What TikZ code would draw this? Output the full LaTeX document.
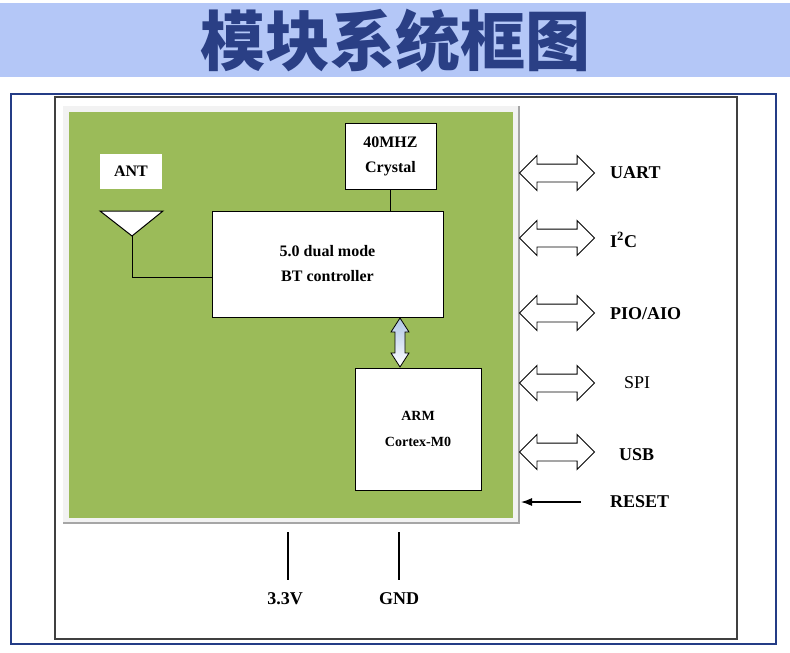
\documentclass[tikz,border=0pt]{standalone}
\usepackage{fontspec}
\setmainfont{Liberation Serif}
\newfontfamily\cjk{Noto Sans CJK SC}
\usetikzlibrary{shapes.arrows,arrows.meta}
\definecolor{bandblue}{HTML}{B4C7F7}
\definecolor{titleblue}{HTML}{2A3F85}
\definecolor{frameblue}{HTML}{243C86}
\definecolor{boardgreen}{HTML}{9BBB59}
\definecolor{arrowblue}{HTML}{AFC6E6}
\begin{document}
\begin{tikzpicture}[x=1pt,y=-1pt,
  blk/.style={draw=black, fill=white, line width=1pt, align=center, inner sep=0pt,
    font=\bfseries\fontsize{16}{25}\selectfont},
  iface/.style={double arrow, draw=black, fill=white, line width=0.9pt,
    minimum height=75pt, minimum width=34pt, inner sep=8.5pt,
    double arrow head extend=8.5pt, double arrow tip angle=90},
  lbl/.style={anchor=west, inner sep=0pt, font=\bfseries\fontsize{18}{20}\selectfont},
  pwr/.style={inner sep=0pt, font=\bfseries\fontsize{18}{20}\selectfont}]
\useasboundingbox (0,0) rectangle (790,653);
\fill[white] (0,0) rectangle (790,653);
% title band
\fill[bandblue] (0,3) rectangle (790,77);
\node[text=titleblue, font=\cjk\bfseries\fontsize{65}{70}\selectfont, inner sep=0pt] (title) at (395,41) {模块系统框图};
% frames
\draw[frameblue, line width=2pt] (11,94) rectangle (776,644);
\draw[black!75, line width=1.5pt] (55,97) rectangle (737,639);
% board
\fill[white!90!gray] (63,106) rectangle (519,523);
\draw[gray!70, line width=1.2pt] (519,106) -- (519,523) -- (63,523);
\fill[boardgreen] (69,112) rectangle (513,518);
% blocks
\node[blk, minimum width=91pt, minimum height=66pt] (crystal) at (390.5,156) {40MHZ\\Crystal};
\node[blk, minimum width=231pt, minimum height=106pt] (bt) at (327.5,264) {5.0 dual mode\\BT controller};
\node[blk, minimum width=126pt, minimum height=122pt, font=\bfseries\fontsize{14}{26}\selectfont] (arm) at (418,429) {ARM\\Cortex-M0};
\node[fill=white, minimum width=62pt, minimum height=35pt, inner sep=0pt, font=\bfseries\fontsize{16}{18}\selectfont] (ant) at (131,171.5) {ANT};
% antenna
\draw[fill=white, line width=1pt] (100,211) -- (163,211) -- (132,236) coordinate (apex) -- cycle;
\draw[line width=1pt] (apex) |- ([yshift=-13pt]bt.west);
\draw[line width=1pt] (crystal.south) -- (crystal.south |- bt.north);
% bus arrow between BT and ARM
\path[draw=black, line width=0.8pt, top color=arrowblue, bottom color=white]
  (400,318) -- (409,332) -- (405,332) -- (405,353) -- (409,353) -- (400,367)
  -- (391,353) -- (395,353) -- (395,332) -- (391,332) -- cycle;
% interfaces
\node[iface] (a1) at (557,173) {};
\node[iface] (a2) at (557,238) {};
\node[iface] (a3) at (557,313) {};
\node[iface] (a4) at (557,383) {};
\node[iface] (a5) at (557,452) {};
\node[lbl] (uart) at (610,173) {UART};
\node[lbl] (i2c) at (610,240) {I\textsuperscript{2}C};
\node[lbl] (pio) at (610,314) {PIO/AIO};
\node[lbl, font=\fontsize{18}{20}\selectfont] (spi) at (624,383) {SPI};
\node[lbl] (usb) at (619,455) {USB};
\node[lbl] (reset) at (610,502) {RESET};
\coordinate (rs) at (581,502);
\coordinate (re) at (521,502);
\draw[line width=1.2pt, -{Latex[length=11pt,width=8pt]}] (rs) -- (re);
% power
\node[pwr] (v33) at (285,599) {3.3V};
\node[pwr] (gnd) at (399,599) {GND};
\coordinate (p1) at (288,532);
\coordinate (p2) at (399,532);
\draw[line width=1.2pt] (p1) -- (288,580);
\draw[line width=1.2pt] (p2) -- (399,580);
\end{tikzpicture}
\end{document}
